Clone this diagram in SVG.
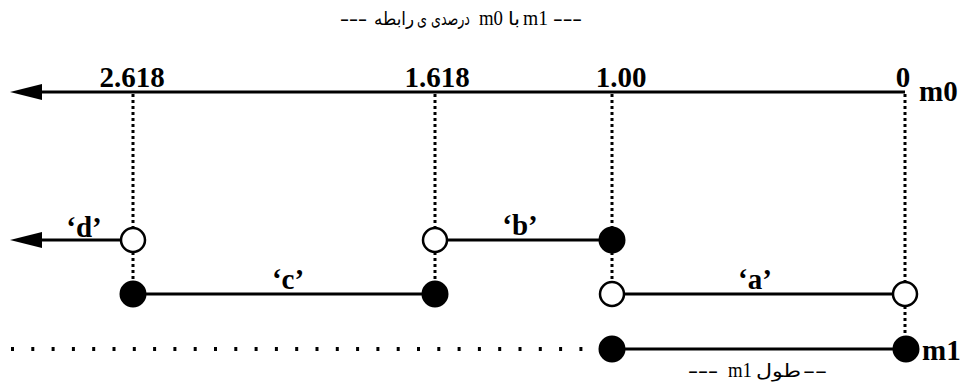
<svg xmlns="http://www.w3.org/2000/svg" width="968" height="385" viewBox="0 0 968 385">
<style>
.ln{stroke:#000;stroke-width:3;fill:none}
.dot{stroke:#000;stroke-width:3;fill:none;stroke-dasharray:3 3}
.open{fill:#fff;stroke:#000;stroke-width:2.5}
.fill{fill:#000;stroke:#000;stroke-width:2}
.num{font-family:"Liberation Serif",serif;font-weight:bold;font-size:29px;fill:#000}
.lab{font-family:"Liberation Serif",serif;font-weight:bold;font-size:29px;fill:#000}
.reg{font-family:"Liberation Serif",serif;font-size:20px;fill:#000}
.ar{font-family:"DejaVu Sans",sans-serif;font-size:18px;fill:#000}
</style>
<g id="title">
<text class="reg" x="340" y="25" textLength="27" lengthAdjust="spacingAndGlyphs">---</text>
<text class="ar" x="374" y="25" textLength="40" lengthAdjust="spacingAndGlyphs">رابطه</text>
<text class="ar" x="417" y="25" textLength="10" lengthAdjust="spacingAndGlyphs">ی</text>
<text class="ar" x="431" y="25" textLength="39" lengthAdjust="spacingAndGlyphs">درصدی</text>
<text class="reg" x="479" y="25" textLength="24" lengthAdjust="spacingAndGlyphs">m0</text>
<text class="ar" x="508" y="25" textLength="12" lengthAdjust="spacingAndGlyphs">با</text>
<text class="reg" x="523" y="25" textLength="25" lengthAdjust="spacingAndGlyphs">m1</text>
<text class="reg" x="553" y="25" textLength="29" lengthAdjust="spacingAndGlyphs">---</text>
</g>
<g id="connectors">
<line class="ln" x1="905" y1="92" x2="42" y2="92"/>
<path d="M10,92 L42,84 L42,100 Z" fill="#000"/>
<line class="dot" x1="133" y1="94" x2="133" y2="228"/>
<line class="dot" x1="133" y1="252" x2="133" y2="282"/>
<line class="dot" x1="435" y1="94" x2="435" y2="228"/>
<line class="dot" x1="435" y1="252" x2="435" y2="282"/>
<line class="dot" x1="612" y1="94" x2="612" y2="228"/>
<line class="dot" x1="612" y1="252" x2="612" y2="282"/>
<line class="dot" x1="905" y1="94" x2="905" y2="282"/>
<line class="dot" x1="905" y1="306" x2="905" y2="337"/>
<line class="ln" x1="121" y1="240" x2="42" y2="240"/>
<path d="M10,240 L42,232 L42,248 Z" fill="#000"/>
<line class="ln" x1="447" y1="240" x2="600" y2="240"/>
<line class="ln" x1="133" y1="294" x2="435" y2="294"/>
<line class="ln" x1="612" y1="294" x2="905" y2="294"/>
<line class="ln" x1="612" y1="349" x2="905" y2="349"/>
<line x1="11" y1="349" x2="600" y2="349" stroke="#000" stroke-width="4" stroke-dasharray="3 17.3"/>
</g>
<g id="axis-labels">
<text class="num" x="132" y="87" text-anchor="middle">2.618</text>
<text class="num" x="437" y="87" text-anchor="middle">1.618</text>
<text class="num" x="621" y="87" text-anchor="middle">1.00</text>
<text class="num" x="903" y="87" text-anchor="middle">0</text>
<text class="num" x="919" y="101">m0</text>
</g>
<g id="node-d"><circle class="open" cx="133" cy="240" r="12"/><text class="lab" x="84" y="237" text-anchor="middle">‘d’</text></g>
<g id="node-b1"><circle class="open" cx="435" cy="240" r="12"/></g>
<g id="node-b2"><circle class="fill" cx="612" cy="240" r="12.5"/><text class="lab" x="520" y="235" text-anchor="middle">‘b’</text></g>
<g id="node-c1"><circle class="fill" cx="133" cy="294" r="12.5"/></g>
<g id="node-c2"><circle class="fill" cx="435" cy="294" r="12.5"/><text class="lab" x="288" y="289" text-anchor="middle">‘c’</text></g>
<g id="node-a1"><circle class="open" cx="612" cy="294" r="12"/><text class="lab" x="755" y="289" text-anchor="middle">‘a’</text></g>
<g id="node-a2"><circle class="open" cx="905" cy="294" r="12"/></g>
<g id="node-m1a"><circle class="fill" cx="612" cy="349" r="12.5"/></g>
<g id="node-m1b"><circle class="fill" cx="906" cy="349" r="12.5"/><text class="num" x="922" y="360">m1</text></g>
<g id="bottom-label">
<text class="reg" x="688" y="377" textLength="30" lengthAdjust="spacingAndGlyphs">---</text>
<text class="reg" x="728" y="377" textLength="24" lengthAdjust="spacingAndGlyphs">m1</text>
<text class="ar" x="756" y="377" textLength="45" lengthAdjust="spacingAndGlyphs">طول</text>
<text class="reg" x="803" y="377" textLength="24" lengthAdjust="spacingAndGlyphs">--</text>
</g>
</svg>
